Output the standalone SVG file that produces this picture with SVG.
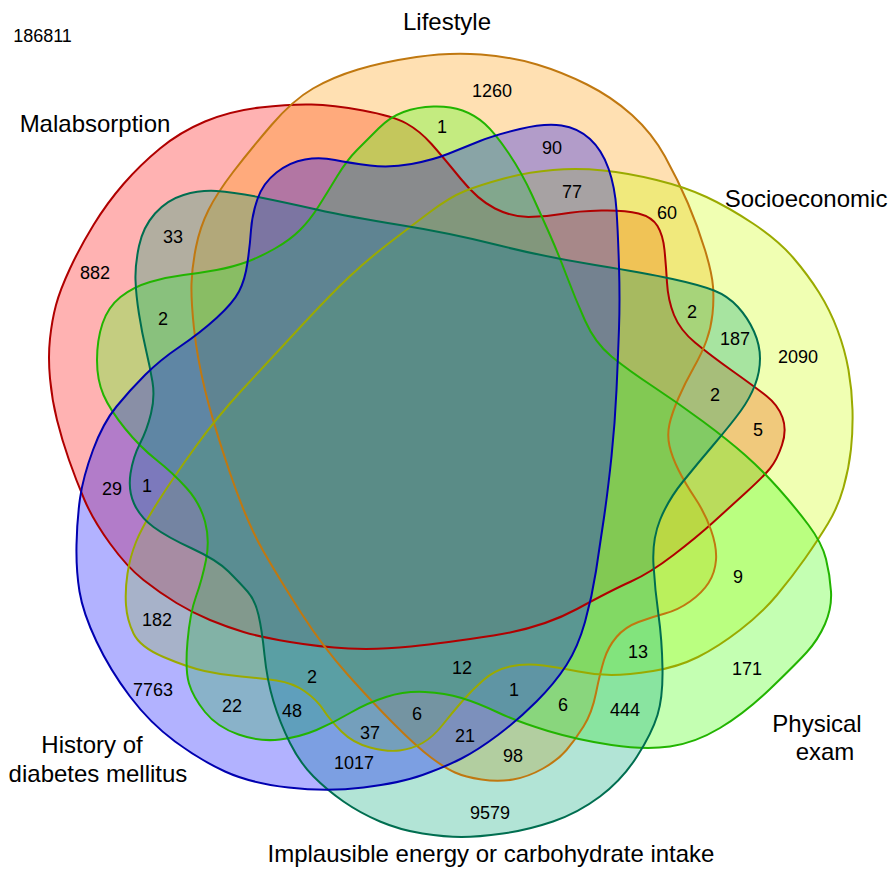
<svg xmlns="http://www.w3.org/2000/svg" xmlns:xlink="http://www.w3.org/1999/xlink" width="895" height="872" viewBox="0 0 895 872">
<style>
text{font-family:"Liberation Sans",Arial,sans-serif;fill:#000;text-anchor:middle}
.lab{font-size:24px}
.num{font-size:18px}
.f{stroke:none}
.o{fill:none;stroke-width:2}
</style>
<defs>
<path id="pR" d="M 311.5,104.5 Q 333,105 363,110.5 Q 393,116 406.5,123.5 Q 420,131 431.5,144 Q 443,157 460.5,178.5 Q 478,200 495,208.5 Q 512,217 528.5,217 Q 545,217 561.5,214 Q 578,211 601.5,210.5 Q 625,210 638.5,213.5 Q 652,217 657.5,226 Q 663,235 664.5,250 Q 666,265 667,282.5 Q 668,300 674,315 Q 680,330 695,342.5 Q 710,355 732.5,371 Q 755,387 766.5,396 Q 778,405 782.5,417.5 Q 787,430 782,445 Q 777,460 770,468.5 Q 763,477 746.5,492 Q 730,507 713.5,522 Q 697,537 673.5,555 Q 650,573 631,581.5 Q 612,590 577,609 Q 542,628 493.5,635.5 Q 445,643 411,646.5 Q 377,650 348.5,648.5 Q 320,647 290,642 Q 260,637 243.5,632 Q 227,627 210,620 Q 193,613 176.5,603 Q 160,593 143.5,580 Q 127,567 110,543.5 Q 93,520 84.5,500 Q 76,480 69,460 Q 62,440 57,420 Q 52,400 50,378.5 Q 48,357 50,338.5 Q 52,320 56,305 Q 60,290 70,268.5 Q 80,247 93.5,225 Q 107,203 123.5,184 Q 140,165 160,148.5 Q 180,132 205,121.5 Q 230,111 260,107.5 Q 290,104 311.5,104.5 Z"/>
<path id="pO" d="M 481,54.5 Q 512,57 537,64.5 Q 562,72 587,84.5 Q 612,97 632,115 Q 652,133 665,156.5 Q 678,180 688,203.5 Q 698,227 705,250 Q 712,273 713,286.5 Q 714,300 712.5,314 Q 711,328 706.5,340.5 Q 702,353 693.5,368 Q 685,383 678.5,398 Q 672,413 669.5,424 Q 667,435 669.5,446 Q 672,457 678.5,470 Q 685,483 695,498 Q 705,513 711,530 Q 717,547 716,560 Q 715,573 708.5,583 Q 702,593 690,601.5 Q 678,610 665,613.5 Q 652,617 638.5,622 Q 625,627 616.5,637 Q 608,647 604,660 Q 600,673 596,693 Q 592,713 583.5,726.5 Q 575,740 566.5,750 Q 558,760 543,768.5 Q 528,777 513,779.5 Q 498,782 481.5,779.5 Q 465,777 455,772.5 Q 445,768 431,757.5 Q 417,747 395,725 Q 373,703 348,675 Q 323,647 301.5,613.5 Q 280,580 263.5,551.5 Q 247,523 230,473 Q 213,423 205,390 Q 197,357 194,328.5 Q 191,300 191.5,283.5 Q 192,267 196,247 Q 200,227 208.5,210 Q 217,193 233.5,171.5 Q 250,150 271.5,125 Q 293,100 313,88.5 Q 333,77 358,69.5 Q 383,62 416.5,57 Q 450,52 481,54.5 Z"/>
<path id="pS" d="M 603,170.5 Q 628,173 656.5,180 Q 685,187 706.5,197 Q 728,207 753,223.5 Q 778,240 793,257.5 Q 808,275 819,292.5 Q 830,310 837.5,330 Q 845,350 848.5,370 Q 852,390 852.5,410 Q 853,430 851,449 Q 849,468 843.5,487.5 Q 838,507 828,523.5 Q 818,540 805,558.5 Q 792,577 777,595 Q 762,613 740,630 Q 718,647 698,657 Q 678,667 653,671 Q 628,675 611.5,675 Q 595,675 578.5,671.5 Q 562,668 543.5,665.5 Q 525,663 510,666.5 Q 495,670 483.5,680 Q 472,690 462,701.5 Q 452,713 442.5,725 Q 433,737 422.5,743 Q 412,749 399.5,750.5 Q 387,752 370,747.5 Q 353,743 341.5,731.5 Q 330,720 323.5,710 Q 317,700 305,691.5 Q 293,683 276.5,680.5 Q 260,678 241,676.5 Q 222,675 204.5,671 Q 187,667 163.5,657 Q 140,647 133.5,633.5 Q 127,620 126,605 Q 125,590 127.5,573.5 Q 130,557 136,542 Q 142,527 157.5,502.5 Q 173,478 195,447.5 Q 217,417 242,390 Q 267,363 298.5,329 Q 330,295 348.5,277.5 Q 367,260 388.5,243.5 Q 410,227 430,212 Q 450,197 465,191 Q 480,185 504,178.5 Q 528,172 553,170 Q 578,168 603,170.5 Z"/>
<path id="pP" d="M 433.5,106.5 Q 450,106 462.5,110.5 Q 475,115 485,124 Q 495,133 508.5,153 Q 522,173 532,195 Q 542,217 550,235 Q 558,253 566.5,275.5 Q 575,298 585,320.5 Q 595,343 611.5,356.5 Q 628,370 653,386.5 Q 678,403 703,421.5 Q 728,440 745,455 Q 762,470 778.5,488.5 Q 795,507 808.5,525 Q 822,543 826,559 Q 830,575 831,591.5 Q 832,608 825,624 Q 818,640 806.5,652.5 Q 795,665 770,689 Q 745,713 720,728 Q 695,743 670,746.5 Q 645,750 611.5,745 Q 578,740 548,731 Q 518,722 498,712.5 Q 478,703 461.5,698 Q 445,693 425,692 Q 405,691 386,697 Q 367,703 350,713 Q 333,723 316.5,730 Q 300,737 280,739.5 Q 260,742 238.5,734.5 Q 217,727 205,712 Q 193,697 189,683.5 Q 185,670 187.5,641.5 Q 190,613 196,596.5 Q 202,580 206,560 Q 210,540 205,521.5 Q 200,503 186.5,488 Q 173,473 156.5,460 Q 140,447 125,428.5 Q 110,410 103.5,395 Q 97,380 97,360 Q 97,340 102.5,323.5 Q 108,307 120.5,297 Q 133,287 150,282 Q 167,277 183.5,275 Q 200,273 216.5,270 Q 233,267 246.5,262 Q 260,257 275,248.5 Q 290,240 300,230 Q 310,220 318.5,206.5 Q 327,193 337,176.5 Q 347,160 357,150 Q 367,140 378.5,128.5 Q 390,117 403.5,112 Q 417,107 433.5,106.5 Z"/>
<path id="pT" d="M 216.5,191 Q 233,192 258,197 Q 283,202 316.5,209.5 Q 350,217 400,225 Q 450,233 497.5,245 Q 545,257 595,265 Q 645,273 672.5,279 Q 700,285 714,290.5 Q 728,296 738,307 Q 748,318 754,331.5 Q 760,345 760,358.5 Q 760,372 755,385 Q 750,398 741,410.5 Q 732,423 715,443 Q 698,463 683,481.5 Q 668,500 660,520 Q 652,540 653.5,565 Q 655,590 658.5,615 Q 662,640 662.5,668.5 Q 663,697 657.5,715 Q 652,733 637,756.5 Q 622,780 600,796.5 Q 578,813 553,821.5 Q 528,830 503,833.5 Q 478,837 461.5,837 Q 445,837 422.5,833.5 Q 400,830 380,821.5 Q 360,813 343.5,801.5 Q 327,790 313.5,776.5 Q 300,763 290,743 Q 280,723 273.5,701.5 Q 267,680 264.5,655 Q 262,630 258.5,615 Q 255,600 247.5,591.5 Q 240,583 228.5,571.5 Q 217,560 192,548.5 Q 167,537 153.5,527 Q 140,517 134,503.5 Q 128,490 130.5,473.5 Q 133,457 140,443.5 Q 147,430 151,413.5 Q 155,397 152.5,382 Q 150,367 146,350 Q 142,333 139,314 Q 136,295 135.5,280 Q 135,265 139,246 Q 143,227 155,213.5 Q 167,200 183.5,195 Q 200,190 216.5,191 Z"/>
<path id="pB" d="M 276.5,172.5 Q 290,162 305,159.5 Q 320,157 335,160 Q 350,163 370,165.5 Q 390,168 411.5,164 Q 433,160 449,153.5 Q 465,147 480,141 Q 495,135 520,129 Q 545,123 561.5,125.5 Q 578,128 590,139 Q 602,150 608.5,168.5 Q 615,187 616.5,210 Q 618,233 619,266.5 Q 620,300 619,328.5 Q 618,357 616.5,390 Q 615,423 611.5,456.5 Q 608,490 604,517.5 Q 600,545 596,571 Q 592,597 585,622 Q 578,647 566.5,665 Q 555,683 536.5,701.5 Q 518,720 498,735 Q 478,750 461.5,758.5 Q 445,767 422.5,775 Q 400,783 363.5,787.5 Q 327,792 288.5,787.5 Q 250,783 225,771.5 Q 200,760 175,741.5 Q 150,723 130,696.5 Q 110,670 96.5,641.5 Q 83,613 79.5,591.5 Q 76,570 76.5,545 Q 77,520 80,498.5 Q 83,477 93,450 Q 103,423 116.5,406.5 Q 130,390 145,375 Q 160,360 180,346.5 Q 200,333 216.5,318 Q 233,303 239,291.5 Q 245,280 247.5,262.5 Q 250,245 251,230 Q 252,215 257.5,199 Q 263,183 276.5,172.5 Z"/>
</defs>
<rect width="895" height="872" fill="#fff"/>
<g id="set-malabsorption">
<use xlink:href="#pR" class="f" fill="#ff0000" fill-opacity="0.3"/>
<text class="lab" x="95" y="132">Malabsorption</text>
</g>
<g id="set-lifestyle">
<use xlink:href="#pO" class="f" fill="#ff9900" fill-opacity="0.3"/>
<text class="lab" x="447" y="30">Lifestyle</text>
</g>
<g id="set-socioeconomic">
<use xlink:href="#pS" class="f" fill="#ccff00" fill-opacity="0.3"/>
<text class="lab" x="806" y="207">Socioeconomic</text>
</g>
<g id="set-physical">
<use xlink:href="#pP" class="f" fill="#55ff22" fill-opacity="0.35"/>
<text class="lab" x="817" y="732">Physical</text>
<text class="lab" x="825" y="760">exam</text>
</g>
<g id="set-implausible">
<use xlink:href="#pT" class="f" fill="#00a577" fill-opacity="0.3"/>
<text class="lab" x="491" y="862">Implausible energy or carbohydrate intake</text>
</g>
<g id="set-diabetes">
<use xlink:href="#pB" class="f" fill="#0000ff" fill-opacity="0.3"/>
<text class="lab" x="92" y="753">History of</text>
<text class="lab" x="98" y="782">diabetes mellitus</text>
</g>
<g id="connectors">
<use xlink:href="#pR" class="o" stroke="#b00000"/>
<use xlink:href="#pO" class="o" stroke="#c07810"/>
<use xlink:href="#pS" class="o" stroke="#9aaa00"/>
<use xlink:href="#pP" class="o" stroke="#22b400"/>
<use xlink:href="#pT" class="o" stroke="#006e50"/>
<use xlink:href="#pB" class="o" stroke="#0000b0"/>
</g>
<g id="counts">
<text class="num" x="42.5" y="42">186811</text>
<text class="num" x="492" y="96.5">1260</text>
<text class="num" x="442" y="133">1</text>
<text class="num" x="552" y="154">90</text>
<text class="num" x="572" y="198">77</text>
<text class="num" x="667" y="219">60</text>
<text class="num" x="173" y="243">33</text>
<text class="num" x="95" y="279">882</text>
<text class="num" x="163" y="325">2</text>
<text class="num" x="112" y="495">29</text>
<text class="num" x="147" y="492">1</text>
<text class="num" x="692" y="318">2</text>
<text class="num" x="735" y="345">187</text>
<text class="num" x="798" y="363">2090</text>
<text class="num" x="715" y="401">2</text>
<text class="num" x="758" y="436">5</text>
<text class="num" x="738" y="583">9</text>
<text class="num" x="157" y="626">182</text>
<text class="num" x="153" y="696">7763</text>
<text class="num" x="232" y="712">22</text>
<text class="num" x="292" y="717">48</text>
<text class="num" x="312" y="683">2</text>
<text class="num" x="370" y="739">37</text>
<text class="num" x="354" y="769">1017</text>
<text class="num" x="417" y="720">6</text>
<text class="num" x="462" y="674">12</text>
<text class="num" x="514" y="696">1</text>
<text class="num" x="465" y="742">21</text>
<text class="num" x="563" y="711">6</text>
<text class="num" x="513" y="762">98</text>
<text class="num" x="638" y="658">13</text>
<text class="num" x="625" y="716">444</text>
<text class="num" x="747" y="675">171</text>
<text class="num" x="490" y="819">9579</text>
</g>
</svg>
